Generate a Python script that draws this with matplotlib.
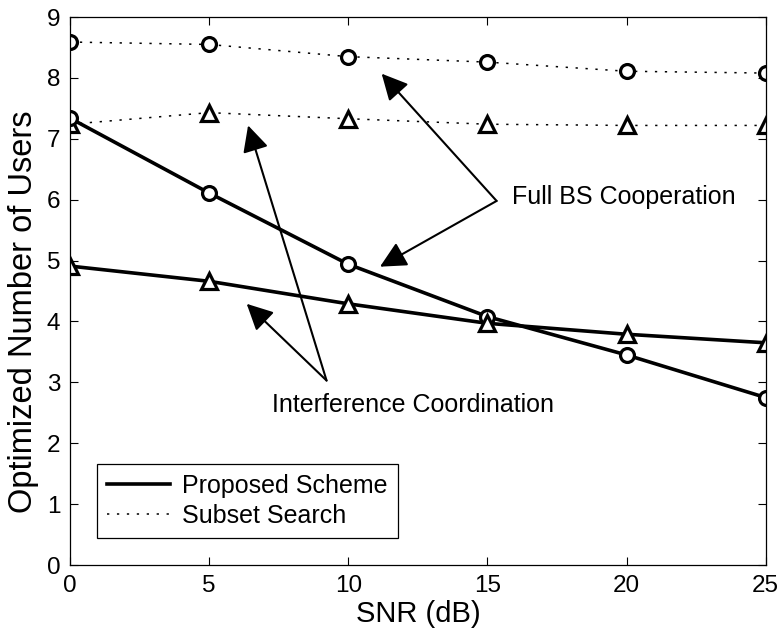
import matplotlib
matplotlib.use("Agg")
import matplotlib.pyplot as plt
from matplotlib.lines import Line2D

plt.rcParams['font.family'] = ['Liberation Sans', 'DejaVu Sans']

snr = [0, 5, 10, 15, 20, 25]

# proposed scheme
prop_full = [7.34, 6.11, 4.94, 4.08, 3.45, 2.75]
prop_ic = [4.91, 4.66, 4.29, 3.97, 3.79, 3.65]

# exhaustive subset search
sub_full = [8.59, 8.55, 8.35, 8.26, 8.11, 8.08]
sub_ic = [7.24, 7.43, 7.33, 7.24, 7.22, 7.22]

legend_labels = ["Proposed Scheme", "Subset Search"]

fig = plt.figure(figsize=(7.8, 6.32), dpi=100)
ax = fig.add_axes([0.0897, 0.106, 0.892, 0.867])

dots = (0, (1.5, 5.0))
circ = dict(marker='o', markersize=10, markeredgewidth=2.3, markerfacecolor='white',
            markeredgecolor='k', color='k')
tri = dict(marker='^', markersize=12, markeredgewidth=2.3, markerfacecolor='white',
           markeredgecolor='k', color='k')

ax.plot(snr, sub_full, linestyle=dots, lw=1.1, **circ)
ax.plot(snr, sub_ic, linestyle=dots, lw=1.1, **tri)
ax.plot(snr, prop_full, linestyle='-', lw=2.6, **circ)
ax.plot(snr, prop_ic, linestyle='-', lw=2.6, **tri)

ax.set_xlim(0, 25)
ax.set_ylim(0, 9)
ax.set_xticks(snr)
ax.set_yticks(range(0, 10))
ax.tick_params(direction='in', top=True, right=True, length=6, width=0.8,
               labelsize=17.5, pad=7)
for s in ax.spines.values():
    s.set_linewidth(0.9)
ax.set_xlabel("SNR (dB)", fontsize=21, labelpad=2)
ax.set_ylabel("Optimized Number of Users", fontsize=23.5)
ax.yaxis.set_label_coords(-0.044, 0.463)

arrow = dict(arrowstyle='-|>,head_length=0.8,head_width=0.4', mutation_scale=20,
             lw=1.5, color='k', shrinkA=0, shrinkB=0)
# Full BS Cooperation pointers
ax.annotate('', xy=(11.20, 8.07), xytext=(15.33, 5.98), arrowprops=arrow)
ax.annotate('', xy=(11.14, 4.90), xytext=(15.33, 5.98), arrowprops=arrow)
ax.text(15.88, 6.05, "Full BS Cooperation", fontsize=18, va='center', ha='left')
# Interference Coordination pointers
ax.annotate('', xy=(6.40, 7.22), xytext=(9.22, 3.03), arrowprops=arrow)
ax.annotate('', xy=(6.35, 4.29), xytext=(9.22, 3.03), arrowprops=arrow)
ax.text(7.26, 2.62, "Interference Coordination", fontsize=18, va='center', ha='left')

handles = [Line2D([], [], color='k', lw=2.6),
           Line2D([], [], color='k', lw=1.1, linestyle=dots)]
leg = ax.legend(handles, legend_labels, loc='lower left', bbox_to_anchor=(0.039, 0.049),
                borderaxespad=0, fontsize=18, handlelength=2.5, handletextpad=0.5,
                labelspacing=0.25, borderpad=0.4, fancybox=False, framealpha=1)
leg.get_frame().set_edgecolor('k')
leg.get_frame().set_linewidth(0.9)

fig.savefig("out.png", dpi=100)
